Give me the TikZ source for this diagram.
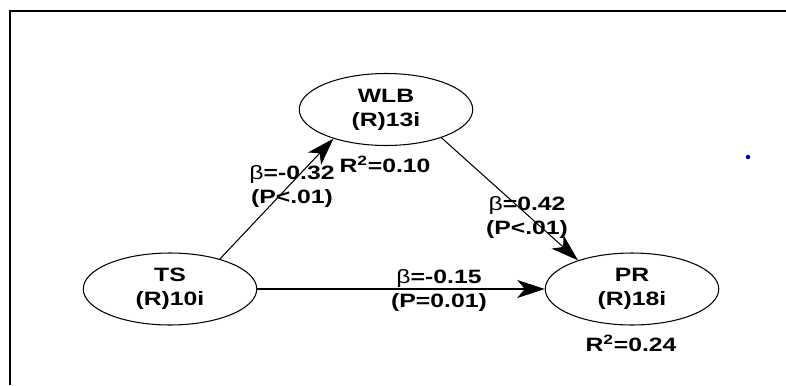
\documentclass[tikz,border=0pt]{standalone}
\usepackage{fontspec}
\setmainfont[FakeStretch=1.28]{Liberation Sans}
\usetikzlibrary{shapes, positioning, arrows.meta}

\begin{document}
\begin{tikzpicture}[x=0.02cm, y=-0.02cm,
        latent/.style={ellipse, draw, line width=0.6pt, minimum width=3.47cm, minimum height=1.44cm, inner sep=0pt, align=center, font=\fontsize{11}{13.5}\selectfont\bfseries},
        coef/.style={align=center, inner sep=0pt, font=\fontsize{11}{14}\selectfont\bfseries},
        path/.style={line width=0.6pt, -{Stealth[length=0.55cm, width=0.36cm, inset=0.15cm]}}]
        \useasboundingbox (0, 0) rectangle (786, 385);
        % frame
        \draw[line width=0.055cm] (10, 385) -- (10, 11) -- (786, 11);

        \node[latent] (wlb) at (386, 109.5) {WLB\\(R)13i};
        \node[latent] (ts) at (170, 289) {TS\\(R)10i};
        \node[latent] (pr) at (632, 289) {PR\\(R)18i};

        \draw[path] (ts.31) to (wlb.209.5);
        \draw[path] (wlb.333.4) to (pr.152.6);
        \draw[path] (ts.east) to (pr.west);

        \node[coef] (b1) at (292, 186.5) {{\mdseries β}=-0.32\\(P<.01)};
        \node[coef] (b2) at (527, 217.5) {{\mdseries β}=0.42\\(P<.01)};
        \node[coef] (b3) at (439, 290.5) {{\mdseries β}=-0.15\\(P=0.01)};
        \node[coef] (r1) at (385, 164) {R\textsuperscript{2}=0.10};
        \node[coef] (r2) at (631, 343) {R\textsuperscript{2}=0.24};

        \fill[blue!70!black] (748, 157) circle (0.045cm);
    \end{tikzpicture}
\end{document}
